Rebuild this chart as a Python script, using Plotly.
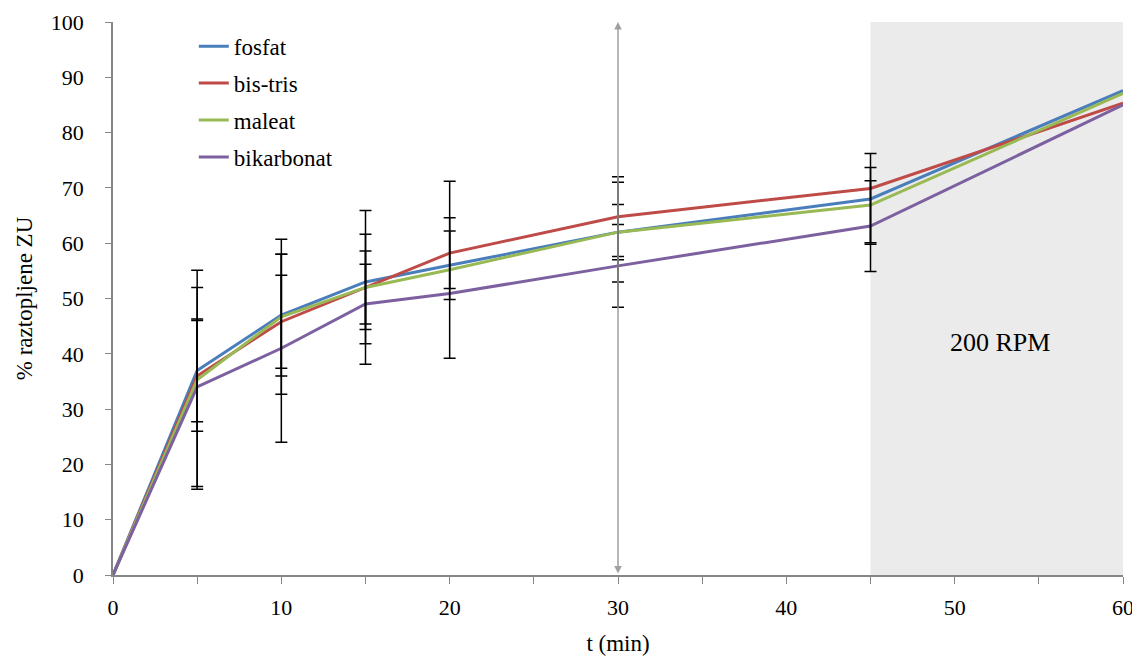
import plotly.graph_objects as go

t = [0, 5, 10, 15, 20, 30, 45, 60]
series_names = ["fosfat", "bis-tris", "maleat", "bikarbonat"]
fosfat = [0, 37.0, 47.0, 53.0, 56.0, 62.0, 68.0, 87.6]
bis_tris = [0, 36.0, 45.8, 52.0, 58.2, 64.8, 69.9, 85.3]
maleat = [0, 35.3, 46.7, 52.0, 55.2, 62.0, 66.9, 87.1]
bikarbonat = [0, 34.0, 41.0, 49.0, 50.9, 55.9, 63.1, 85.0]

err_fosfat = [0, 9.3, 11.0, 8.6, 6.2, 9.0, 8.2, 0]
err_bis_tris = [0, 10.0, 8.4, 6.6, 6.4, 7.2, 0, 0]
err_maleat = [0, 19.8, 14.0, 13.9, 16.0, 5.0, 6.8, 0]
err_bikarbonat = [0, 18.0, 17.0, 7.2, 0, 7.5, 8.2, 0]

colors = ["#4A7EBB", "#BE4B48", "#98B954", "#7D60A0"]
x_ticks = [0, 10, 20, 30, 40, 50, 60]
y_ticks = [0, 10, 20, 30, 40, 50, 60, 70, 80, 90, 100]

values = [fosfat, bis_tris, maleat, bikarbonat]
errors = [err_fosfat, err_bis_tris, err_maleat, err_bikarbonat]

FONT = "Liberation Serif"

fig = go.Figure()

# shaded 200 RPM region
fig.add_shape(type="rect", xref="x", yref="y", x0=45, x1=60, y0=0, y1=100,
              fillcolor="#EBEBEB", line=dict(width=0), layer="below")

for name, vals, col in zip(series_names, values, colors):
    fig.add_trace(go.Scatter(x=t, y=vals, mode="lines", name=name,
                             legendgroup=name,
                             line=dict(color=col, width=3)))

for name, vals, errs in zip(series_names, values, errors):
    xs = [x for x, e in zip(t, errs) if e > 0]
    ys = [v for v, e in zip(vals, errs) if e > 0]
    es = [e for e in errs if e > 0]
    fig.add_trace(go.Scatter(x=xs, y=ys, mode="markers", showlegend=False,
                             marker=dict(size=0.1, opacity=0),
                             hoverinfo="skip",
                             error_y=dict(type="data", array=es, visible=True,
                                          color="#000000", thickness=1.5, width=6)))

# double-headed arrow at t = 30
fig.add_annotation(x=30, y=100, ax=30, ay=0, xref="x", yref="y",
                   axref="x", ayref="y", text="", showarrow=True,
                   arrowhead=2, startarrowhead=2, arrowside="end+start",
                   arrowsize=1, startarrowsize=1, arrowwidth=1.5,
                   arrowcolor="#A0A0A0")

fig.add_annotation(x=52.7, y=42, xref="x", yref="y", text="200 RPM",
                   showarrow=False, font=dict(family=FONT, size=26, color="#000"))

fig.update_layout(
    width=1140, height=661,
    margin=dict(l=105, r=25, t=14, b=94),
    paper_bgcolor="white", plot_bgcolor="white",
    font=dict(family=FONT, size=20, color="#000"),
    showlegend=True,
    legend=dict(x=0.08, y=0.995, xanchor="left", yanchor="top",
                bgcolor="rgba(0,0,0,0)", font=dict(family=FONT, size=23, color="#000"),
                tracegroupgap=4, itemwidth=30),
    xaxis=dict(range=[0, 60], tickvals=x_ticks, ticks="outside", ticklen=7,
               tickcolor="#868686", showline=True, linecolor="#868686",
               linewidth=1.5, showgrid=False, zeroline=False, automargin=False,
               tickfont=dict(family=FONT, size=22),
               ticklabelstandoff=5,
               minor=dict(dtick=5, ticks="outside", ticklen=7, tickcolor="#868686"),
               title=dict(text="t (min)", font=dict(family=FONT, size=23, color="#000"), standoff=16)),
    yaxis=dict(range=[0, 100], tickvals=y_ticks, ticks="outside", ticklen=6,
               tickcolor="#868686", showline=True, linecolor="#868686",
               linewidth=1.5, showgrid=False, zeroline=False, automargin=False,
               tickfont=dict(family=FONT, size=22),
               ticklabelstandoff=17,
               title=dict(text="% raztopljene ZU", font=dict(family=FONT, size=23, color="#000"), standoff=12)),
)

fig.write_html("out.html")
